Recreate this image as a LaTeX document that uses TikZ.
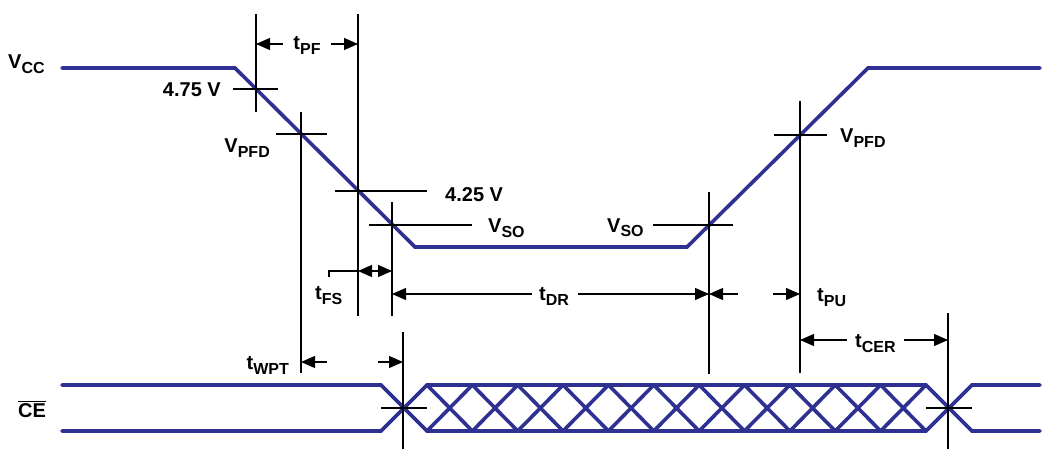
\documentclass[tikz,border=0pt]{standalone}
\usepackage{fontspec}
\setmainfont{Liberation Sans}
\usetikzlibrary{arrows.meta}
\definecolor{sigblue}{RGB}{46,49,146}
\newcommand{\tsub}[2]{#1\raisebox{-5pt}{\fontsize{16}{16}\selectfont #2}}

\begin{document}
\begin{tikzpicture}[x=1pt, y=-1pt,
    sig/.style={sigblue, line width=3.6pt, line cap=round},
    hair/.style={black, line width=1.2pt},
    dim/.style={black, line width=1.2pt, -{Triangle[length=14pt,width=12pt]}},
    lbl/.style={font=\fontsize{20}{22}\selectfont\bfseries, inner sep=0pt}]
  \useasboundingbox (0,0) rectangle (1054,449);

  % Vcc trace
  \draw[sig] (62,68) -- (235,68) -- (415,247) -- (687,247) -- (868,68) -- (1040,68);
  \node[lbl, anchor=base west] (vcc) at (8,69) {\tsub{V}{CC}};

  % crosshairs on the falling edge
  \draw[hair] (256,14) -- (256,112);  \draw[hair] (233,89) -- (278,89);
  \draw[hair] (301,112) -- (301,373); \draw[hair] (276,134) -- (327,134);
  \draw[hair] (358,14) -- (358,316);  \draw[hair] (335,191) -- (427,191);
  \draw[hair] (392,202) -- (392,316); \draw[hair] (369,225) -- (472,225);
  \node[lbl, anchor=base east] (v475) at (221,97) {4.75 V};
  \node[lbl, anchor=base east] (vpfdl) at (270,153) {\tsub{V}{PFD}};
  \node[lbl, anchor=base west] (v425) at (445,201) {4.25 V};
  \node[lbl, anchor=base west] (vsol) at (488,233) {\tsub{V}{SO}};

  % crosshairs on the rising edge
  \draw[hair] (709,192) -- (709,374); \draw[hair] (653,225) -- (733,225);
  \draw[hair] (800,101) -- (800,373); \draw[hair] (774,135) -- (827,135);
  \node[lbl, anchor=base west] (vsor) at (607,232) {\tsub{V}{SO}};
  \node[lbl, anchor=base west] (vpfdr) at (840,143) {\tsub{V}{PFD}};

  % CE trace
  \draw[sig] (62,385) -- (381,385) -- (427,431) -- (926,431) -- (972,385) -- (1040,385);
  \draw[sig] (62,431) -- (381,431) -- (427,385) -- (926,385) -- (972,431) -- (1040,431);
  \foreach \k in {0,...,10} {
    \pgfmathsetmacro\xa{427+45.36*\k}
    \pgfmathsetmacro\xb{427+45.36*(\k+1)}
    \draw[sig, line cap=butt] (\xa,385) -- (\xb,431) (\xa,431) -- (\xb,385);
  }
  \draw[hair] (403,332) -- (403,449); \draw[hair] (381,408) -- (427,408);
  \draw[hair] (948,313) -- (948,449); \draw[hair] (926,408) -- (972,408);
  \node[lbl, anchor=base west] (ce) at (18,417) {$\overline{\hbox{CE}}$};

  % tPF
  \draw[dim] (283,44) -- (256,44);
  \draw[dim] (331,44) -- (358,44);
  \node[lbl, anchor=base] (tpf) at (307,50) {\tsub{t}{PF}};

  % tFS
  \draw[hair] (329,277) -- (329,271) -- (358,271);
  \draw[dim] (375,271) -- (358,271);
  \draw[dim] (375,271) -- (392,271);
  \node[lbl, anchor=base west] (tfs) at (315,299) {\tsub{t}{FS}};

  % tDR
  \draw[dim] (532,294) -- (392,294);
  \draw[dim] (578,294) -- (709,294);
  \node[lbl, anchor=base west] (tdr) at (539,300) {\tsub{t}{DR}};

  % tPU
  \draw[dim] (738,294) -- (709,294);
  \draw[dim] (773,294) -- (800,294);
  \node[lbl, anchor=base west] (tpu) at (817,301) {\tsub{t}{PU}};

  % tWPT
  \draw[dim] (327,362) -- (301,362);
  \draw[dim] (378,362) -- (403,362);
  \node[lbl, anchor=base east] (twpt) at (289,369) {\tsub{t}{WPT}};

  % tCER
  \draw[dim] (847,340) -- (800,340);
  \draw[dim] (904,340) -- (948,340);
  \node[lbl, anchor=base west] (tcer) at (855,347) {\tsub{t}{CER}};
\end{tikzpicture}
\end{document}
